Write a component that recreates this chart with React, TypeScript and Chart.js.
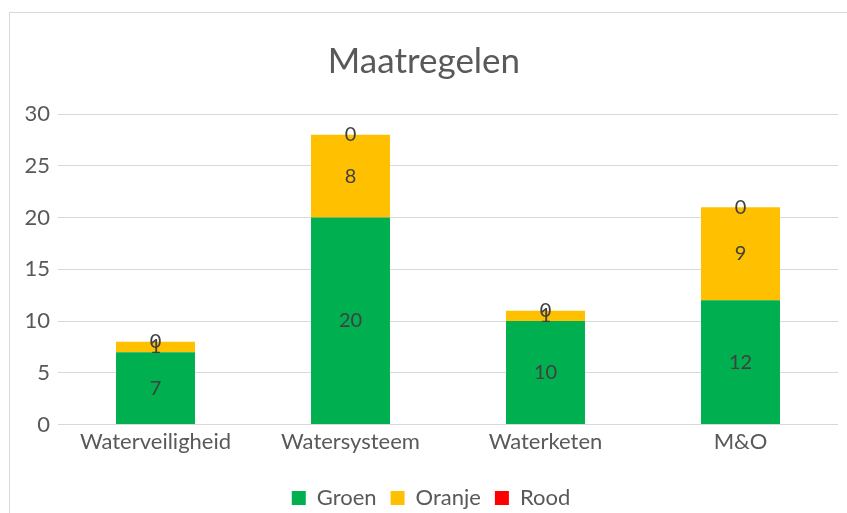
import React, { useEffect, useRef } from "react";
import { Chart, registerables } from "chart.js";

Chart.register(...registerables);

const categories = ["Waterveiligheid", "Watersysteem", "Waterketen", "M&O"];
const groen = [7, 20, 10, 12];
const oranje = [1, 8, 1, 9];
const rood = [0, 0, 0, 0];
const yTicks = [0, 5, 10, 15, 20, 25, 30];

const FONT = "Lato, 'Open Sans', sans-serif";

const dataLabelPlugin = {
  id: "dataLabels",
  afterLayout(chart: any) {
    if (chart.legend) {
      chart.legend.left += 7;
      chart.legend.right += 7;
    }
  },
  afterDatasetsDraw(chart: any) {
    const ctx = chart.ctx;
    ctx.save();
    ctx.font = `20px ${FONT}`;
    ctx.fillStyle = "#404040";
    ctx.textAlign = "center";
    ctx.textBaseline = "middle";
    chart.data.datasets.forEach((ds: any, i: number) => {
      const meta = chart.getDatasetMeta(i);
      meta.data.forEach((el: any, j: number) => {
        const v = ds.data[j];
        const props = el.getProps(["x", "y", "base"], true);
        const cy = (props.y + props.base) / 2;
        ctx.fillText(String(v), props.x, cy);
      });
    });
    ctx.restore();
  },
};

export default function App() {
  const ref = useRef<HTMLCanvasElement>(null);
  useEffect(() => {
    if (!ref.current) return;
    const chart = new Chart(ref.current, {
      type: "bar",
      data: {
        labels: categories,
        datasets: [
          { label: "Groen", data: groen, backgroundColor: "#00B050" },
          { label: "Oranje", data: oranje, backgroundColor: "#FFC000" },
          { label: "Rood", data: rood, backgroundColor: "#FF0000" },
        ],
      },
      options: {
        animation: false,
        responsive: false,
        layout: { padding: { left: 0, right: 0, top: 0, bottom: 4 } },
        datasets: {
          bar: { barPercentage: 0.405, categoryPercentage: 1 },
        },
        scales: {
          x: {
            stacked: true,
            grid: { display: false },
            border: { display: false },
            ticks: {
              color: "#595959",
              font: { family: FONT, size: 22 },
              padding: -4,
            },
            afterFit: (axis: any) => {
              axis.height += 22;
            },
          },
          y: {
            stacked: true,
            min: 0,
            max: 30,
            afterBuildTicks: (axis: any) => {
              axis.ticks = yTicks.map((v) => ({ value: v }));
            },
            afterFit: (axis: any) => {
              axis.width = 48;
            },
            grid: { color: "#d9d9d9", lineWidth: 1, drawTicks: false },
            border: { display: false },
            ticks: {
              color: "#595959",
              font: { family: FONT, size: 22 },
              padding: 8,
            },
          },
        },
        plugins: {
          title: {
            display: true,
            text: "Maatregelen",
            color: "#595959",
            font: { family: FONT, size: 35, weight: "normal" },
            padding: { top: 28, bottom: 31 },
          },
          legend: {
            position: "bottom",
            labels: {
              color: "#595959",
              font: { family: FONT, size: 22 },
              boxWidth: 14,
              boxHeight: 14,
              padding: 14,
            },
          },
          tooltip: { enabled: false },
        },
      },
      plugins: [dataLabelPlugin],
    });
    return () => chart.destroy();
  }, []);

  return (
    <div
      style={{
        position: "absolute",
        left: 9,
        top: 12,
        width: 860,
        height: 520,
        borderTop: "1px solid #d9d9d9",
        borderLeft: "1px solid #d9d9d9",
        boxSizing: "border-box",
        background: "#fff",
      }}
    >
      <canvas ref={ref} width={828} height={510} style={{ display: "block" }} />
    </div>
  );
}
